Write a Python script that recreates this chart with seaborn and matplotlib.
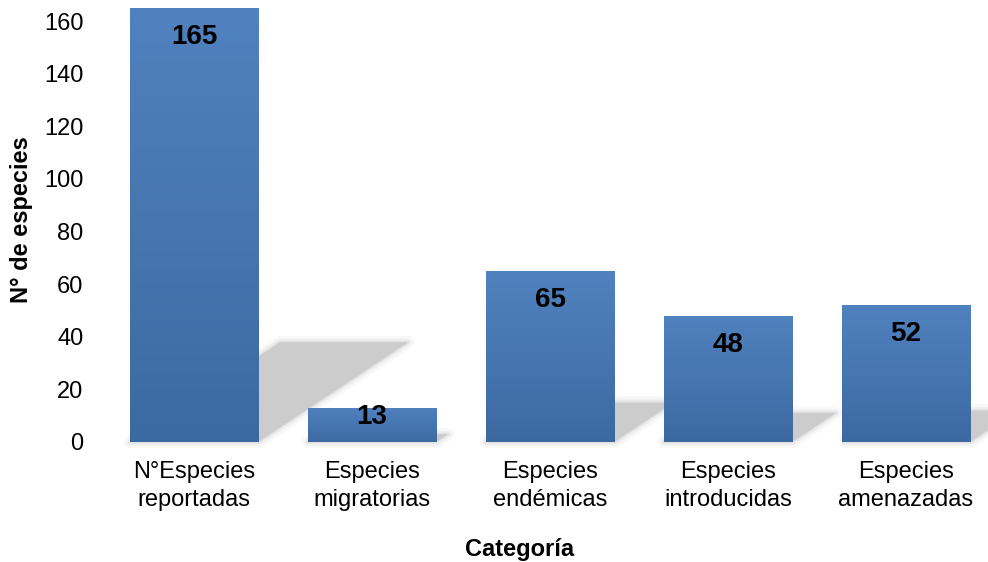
import numpy as np
import pandas as pd
import matplotlib
matplotlib.use("Agg")
import matplotlib.pyplot as plt
import matplotlib.patches as mpatches
from matplotlib.transforms import Affine2D
import seaborn as sns

categories = ["N°Especies\nreportadas", "Especies\nmigratorias", "Especies\nendémicas",
              "Especies\nintroducidas", "Especies\namenazadas"]
values = [165, 13, 65, 48, 52]
yticks = [0, 20, 40, 60, 80, 100, 120, 140, 160]
ylabel = "N° de especies"
xlabel = "Categoría"

sns.set_theme(style="white")
plt.rcParams['font.family'] = ['Liberation Sans', 'DejaVu Sans']

W, H = 988, 562
fig = plt.figure(figsize=(W / 100, H / 100), dpi=100)
ax_left, ax_bottom_px, ax_top_px = 105, 442, 8
ax_w_px = W - ax_left
ax_h_px = ax_bottom_px - ax_top_px
ax = fig.add_axes([ax_left / W, (H - ax_bottom_px) / H, ax_w_px / W, ax_h_px / H])

df = pd.DataFrame({"cat": categories, "val": values})
sns.barplot(data=df, x="cat", y="val", ax=ax, width=0.72, color="#4a78b4",
            saturation=1, edgecolor="none", linewidth=0, zorder=3)

xmax = -0.5 + ax_w_px / 178.0
ymax = 165
ax.set_xlim(-0.5, xmax)
ax.set_ylim(0, ymax)

top_c = np.array([80, 130, 191]) / 255
bot_c = np.array([61, 105, 161]) / 255
grad = np.linspace(0, 1, 256)[:, None, None]
img = top_c[None, None, :] * (1 - grad) + bot_c[None, None, :] * grad

bars = list(ax.patches)
# shadows: sheared, flattened copies of the bars
k = 0.843 / 165.0
s = 0.23
shear = Affine2D(np.array([[1, k, 0], [0, s, 0], [0, 0, 1]]))
for p in bars:
    x0, y0 = p.get_x(), p.get_y()
    w, h = p.get_width(), p.get_height()
    for lw, a in [(9, 0.10), (5, 0.18), (2, 0.3)]:
        sh = mpatches.Rectangle((x0, y0), w, h, facecolor="none", edgecolor="#c4c4c4",
                                linewidth=lw, alpha=a, joinstyle="round",
                                transform=shear + ax.transData, zorder=1, clip_on=False)
        ax.add_patch(sh)
    sh = mpatches.Rectangle((x0, y0), w, h, facecolor="#cccccc", edgecolor="none",
                            transform=shear + ax.transData, zorder=1.5, clip_on=False)
    ax.add_patch(sh)

for p in bars:
    x0, y0 = p.get_x(), p.get_y()
    w, h = p.get_width(), p.get_height()
    im = ax.imshow(img, extent=[x0, x0 + w, y0, y0 + h], aspect="auto",
                   origin="upper", zorder=3.5, clip_on=True)
    im.set_clip_path(p)

ax.set_xlim(-0.5, xmax)
ax.set_ylim(0, ymax)

px_per_unit = ax_h_px / ymax
for i, v in enumerate(values):
    off_px = min(29, 0.27 * v * px_per_unit)
    ax.annotate(str(v), (i, v), xytext=(0, -off_px * 0.72), textcoords="offset points",
                ha="center", va="center", fontsize=20, fontweight="bold",
                color="black", zorder=5)

ax.set_yticks(yticks)
ax.set_yticklabels([str(t) for t in yticks])
ax.tick_params(axis="y", length=0, pad=15.5, labelsize=17, labelcolor="black")
ax.tick_params(axis="x", length=0, pad=14, labelsize=17, labelcolor="black")
for lab in ax.get_xticklabels():
    lab.set_linespacing(1.3)
for sp in ax.spines.values():
    sp.set_visible(False)
ax.grid(False)

ax.set_ylabel(ylabel, fontsize=17, fontweight="bold", color="black")
ax.yaxis.set_label_coords((33 - ax_left) / ax_w_px, (ax_bottom_px - 220) / ax_h_px)
ax.set_xlabel(xlabel, fontsize=17, fontweight="bold", color="black")
ax.xaxis.set_label_coords((520 - ax_left) / ax_w_px, -(538 - ax_bottom_px) / ax_h_px)

fig.savefig("out.png", dpi=100)
